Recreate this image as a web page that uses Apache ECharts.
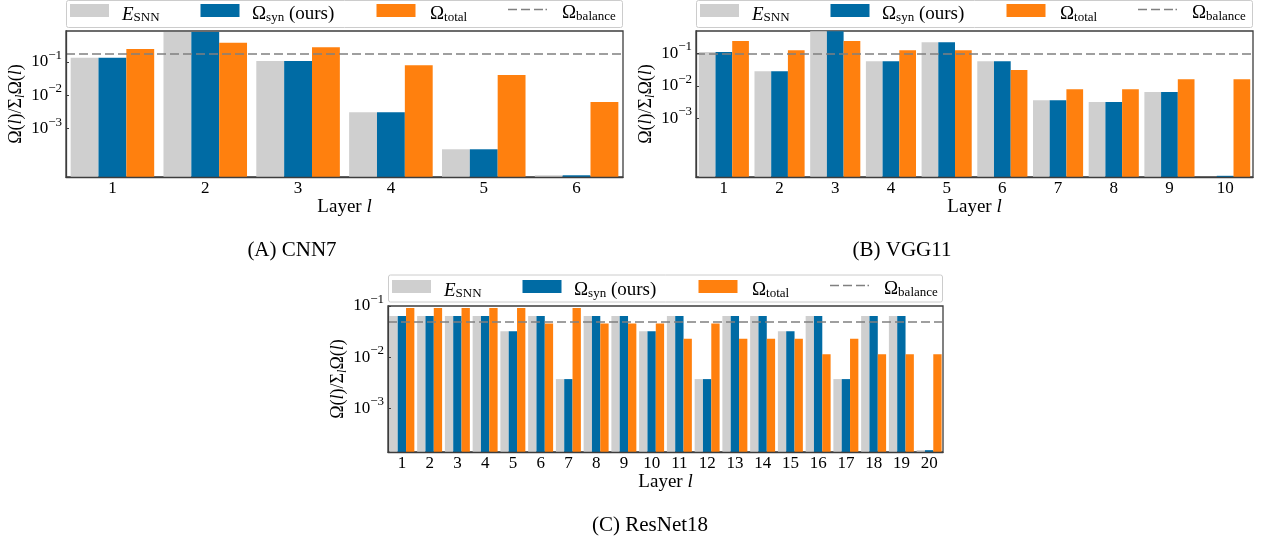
<!DOCTYPE html>
<html><head><meta charset="utf-8">
<script src="https://cdn.jsdelivr.net/npm/echarts@6/dist/echarts.min.js"></script>
<style>html,body{margin:0;padding:0;background:#fff;} #c{width:1263px;height:546px;}</style>
</head><body><div id="c"></div>
<script>
// ---------- data ----------
const layersA = ['1','2','3','4','5','6'];
const esnnA  = [0.132, 0.78, 0.105, 0.0031, 0.00024, 0.00004];
const synA   = [0.132, 0.78, 0.105, 0.0031, 0.00024, 0.00004];
const totalA = [0.24, 0.37, 0.275, 0.079, 0.04, 0.0062];
const balanceA = 1/6;

const layersB = ['1','2','3','4','5','6','7','8','9','10'];
const esnnB  = [0.11, 0.0285, 0.48, 0.058, 0.22, 0.058, 0.0036, 0.0032, 0.0065, 0.0000159];
const synB   = [0.11, 0.0285, 0.48, 0.058, 0.22, 0.058, 0.0036, 0.0032, 0.0065, 0.0000172];
const totalB = [0.24, 0.126, 0.24, 0.126, 0.126, 0.031, 0.0079, 0.0079, 0.016, 0.016];
const balanceB = 0.1;

const layersC = ['1','2','3','4','5','6','7','8','9','10','11','12','13','14','15','16','17','18','19','20'];
const esnnC  = [0.064,0.064,0.064,0.064,0.032,0.064,0.0037,0.064,0.064,0.032,0.064,0.0037,0.064,0.064,0.032,0.064,0.0037,0.064,0.064,0.00015];
const synC   = [0.064,0.064,0.064,0.064,0.032,0.064,0.0037,0.064,0.064,0.032,0.064,0.0037,0.064,0.064,0.032,0.064,0.0037,0.064,0.064,0.00015];
const totalC = [0.091,0.091,0.091,0.091,0.091,0.0455,0.091,0.0455,0.0455,0.0455,0.0227,0.0455,0.0227,0.0227,0.0227,0.0114,0.0227,0.0114,0.0114,0.0114];
const balanceC = 0.05;

const yTickValues = [0.1, 0.01, 0.001];
const seriesNames = ['E_SNN', 'Ω_syn', 'Ω_total', 'Ω_balance'];
const captions = ['(A) CNN7', '(B) VGG11', '(C) ResNet18'];

// ---------- styling ----------
const SERIF = "'Liberation Serif','Times New Roman',serif";
const COLORS = ['#CFCFCF', '#006BA4', '#FF800E'];
const BAL_COLOR = '#808080';
const FRAME = '#3d3d3d';
const DASH_ICON = 'path://M0,0h9v1.6h-9z M13,0h9v1.6h-9z M26,0h9v1.6h-9z M37.5,0h1.5v1.6h-1.5z';

const panels = [
  {cats: layersA, e: esnnA, s: synA, t: totalA, bal: balanceA, min: 3.55e-5, max: 0.836, left: 66,  top: 31,  width: 557, height: 146},
  {cats: layersB, e: esnnB, s: synB, t: totalB, bal: balanceB, min: 1.58e-5, max: 0.49,  left: 696, top: 31,  width: 557, height: 146},
  {cats: layersC, e: esnnC, s: synC, t: totalC, bal: balanceC, min: 1.38e-4, max: 0.1,   left: 388, top: 306, width: 555, height: 146}
];
const legendTops = [4, 4, 280];
const frameTops = [0.5, 0.5, 275];
const captionPos = [[292, 250], [902, 250], [650, 525]];
const legendOffsets = [4, 134.5, 310.5, 442];
const legendPads = [8, 7.5, 9.5, 10];

const legendLabels = {
  'E_SNN': '{h|\u200b}{i|E}{sub|SNN}',
  'Ω_syn': '{h|\u200b}{n|Ω}{sub|syn}{n| (ours)}',
  'Ω_total': '{h|\u200b}{n|Ω}{sub|total}',
  'Ω_balance': '{h|\u200b}{n|Ω}{sub|balance}'
};
const legendRich = {
  h: {fontSize: 1, lineHeight: 27, width: 0},
  n: {fontFamily: SERIF, fontSize: 19, lineHeight: 20, verticalAlign: 'bottom', color: '#000'},
  i: {fontFamily: SERIF, fontSize: 19, lineHeight: 20, verticalAlign: 'bottom', fontStyle: 'italic', color: '#000'},
  sub: {fontFamily: SERIF, fontSize: 13, lineHeight: 13, verticalAlign: 'bottom', color: '#000'}
};

const grids = [], xAxes = [], yAxes = [], series = [], legends = [], graphics = [];

panels.forEach((p, k) => {
  grids.push({left: p.left, top: p.top, width: p.width, height: p.height, show: true,
    borderColor: FRAME, borderWidth: 1.3, backgroundColor: 'transparent', containLabel: false});
  xAxes.push({type: 'category', gridIndex: k, data: p.cats, z: 5,
    axisLine: {show: true, lineStyle: {color: FRAME, width: 1.3}},
    axisTick: {show: false},
    axisLabel: {interval: 0, margin: 3, fontFamily: SERIF, fontSize: 17, color: '#000'},
    name: '{n|Layer }{i|l}', nameLocation: 'middle', nameGap: 19,
    nameTextStyle: {rich: {
      n: {fontFamily: SERIF, fontSize: 19, lineHeight: 22, color: '#000'},
      i: {fontFamily: SERIF, fontSize: 19, lineHeight: 22, fontStyle: 'italic', color: '#000'}}}
  });
  yAxes.push({type: 'log', logBase: 10, gridIndex: k, min: p.min, max: p.max, startValue: p.min, z: 5,
    splitLine: {show: false},
    axisLine: {show: true, lineStyle: {color: FRAME, width: 1.3}},
    axisTick: {show: true, inside: true, length: 3, customValues: yTickValues, lineStyle: {color: FRAME, width: 1}},
    axisLabel: {margin: 4, customValues: yTickValues,
      formatter: v => {
        const ex = Math.log10(v), r = Math.round(ex);
        if (Math.abs(ex - r) > 1e-6 || r < -3 || r > -1) return '';
        return '{b|10}{s|−' + (-r) + '}';
      },
      rich: {
        b: {fontFamily: SERIF, fontSize: 17, lineHeight: 26, color: '#000'},
        s: {fontFamily: SERIF, fontSize: 13, lineHeight: 14, verticalAlign: 'top', color: '#000'}
      }},
    name: '{n|Ω(}{i|l}{n|)/Σ}{si|l}{n|Ω(}{i|l}{n|)}', nameLocation: 'middle', nameRotate: 90, nameGap: 35,
    nameTextStyle: {rich: {
      n: {fontFamily: SERIF, fontSize: 18, lineHeight: 22, color: '#000'},
      i: {fontFamily: SERIF, fontSize: 18, lineHeight: 22, fontStyle: 'italic', color: '#000'},
      si: {fontFamily: SERIF, fontSize: 12, lineHeight: 12, fontStyle: 'italic', verticalAlign: 'bottom', color: '#000'}}}
  });
  [p.e, p.s, p.t].forEach((vals, j) => {
    series.push({type: 'bar', name: seriesNames[j], xAxisIndex: k, yAxisIndex: k, data: vals,
      barWidth: '30%', barGap: '0%', itemStyle: {color: COLORS[j]}, animation: false, silent: true});
  });
  series.push({type: 'line', name: seriesNames[3], xAxisIndex: k, yAxisIndex: k, data: [],
    symbol: 'none', itemStyle: {color: BAL_COLOR}, lineStyle: {color: BAL_COLOR, width: 1.5, type: [9, 4]}, animation: false,
    markLine: {silent: true, symbol: ['none', 'none'], label: {show: false}, animation: false,
      lineStyle: {color: BAL_COLOR, width: 1.5, type: [9, 4]}, data: [{yAxis: p.bal}]}});

  seriesNames.forEach((nm, j) => {
    const lg = {data: [nm], left: p.left + legendOffsets[j], top: legendTops[k], padding: 0,
      itemWidth: 39, itemHeight: 13, selectedMode: false,
      formatter: n => legendLabels[n],
      textStyle: {padding: [0, 0, 0, legendPads[j]], rich: legendRich}};
    if (j < 3) {
      lg.icon = 'rect';
    } else {
      lg.icon = DASH_ICON;
      lg.itemStyle = {color: BAL_COLOR, borderWidth: 0};
      lg.lineStyle = {width: 0};
    }
    legends.push(lg);
  });
  graphics.push({type: 'rect', z: -1, shape: {x: p.left + 0.5, y: frameTops[k], width: p.width - 1, height: 27, r: 2},
    style: {fill: '#fff', stroke: '#cccccc', lineWidth: 1}});
  graphics.push({type: 'text', x: captionPos[k][0], y: captionPos[k][1],
    style: {text: captions[k], font: '21px ' + SERIF, fill: '#000', textAlign: 'center', textVerticalAlign: 'middle'}});
});

const chart = echarts.init(document.getElementById('c'), null, {renderer: 'canvas'});
chart.setOption({
  animation: false,
  backgroundColor: '#fff',
  grid: grids, xAxis: xAxes, yAxis: yAxes, series: series, legend: legends, graphic: graphics
});
</script></body></html>
